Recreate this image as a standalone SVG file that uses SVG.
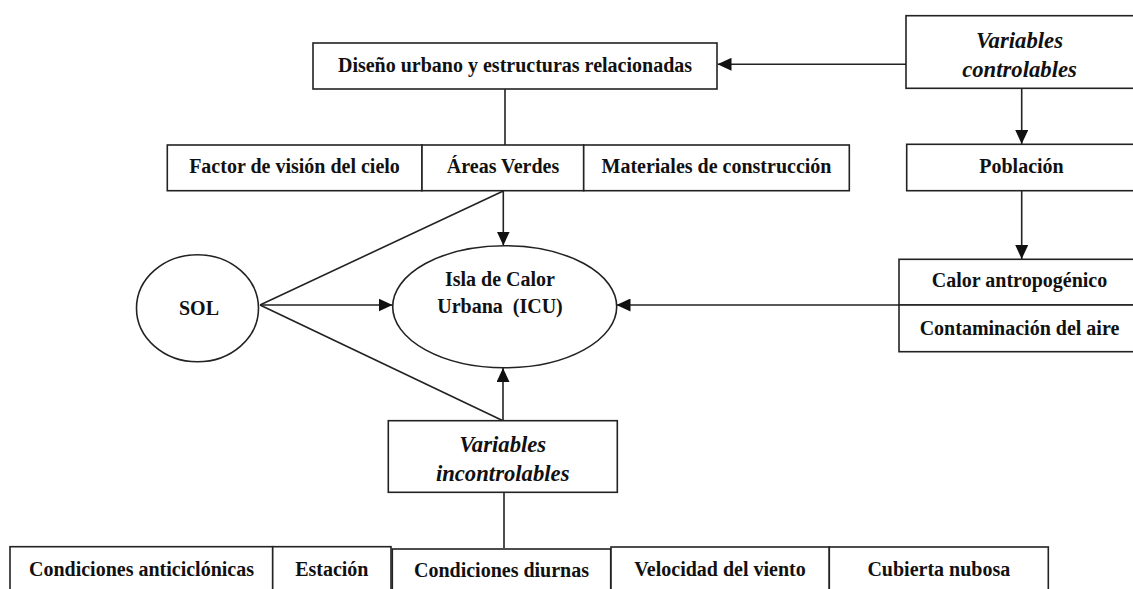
<svg xmlns="http://www.w3.org/2000/svg" width="1133" height="589" viewBox="0 0 1133 589">
<defs>
<style>
.box{fill:#fff;stroke:#222;stroke-width:1.6}
.ln{fill:none;stroke:#222;stroke-width:1.6}
.t{font-family:"Liberation Serif","Times New Roman",serif;font-weight:bold;font-size:20px;fill:#111;text-anchor:middle}
.ti{font-family:"Liberation Serif","Times New Roman",serif;font-weight:bold;font-style:italic;font-size:22.7px;fill:#111;text-anchor:middle}
</style>
<marker id="arr" viewBox="0 0 14 13" refX="14" refY="6.5" markerWidth="14" markerHeight="13" orient="auto" markerUnits="userSpaceOnUse">
<path d="M0,0 L14,6.5 L0,13 z" fill="#111"/>
</marker>
</defs>
<rect width="1133" height="589" fill="#fff"/>

<g id="connectors">
<line class="ln" x1="906" y1="64.3" x2="717.5" y2="64.3" marker-end="url(#arr)"/>
<line class="ln" x1="505" y1="89" x2="505" y2="145"/>
<line class="ln" x1="1021.7" y1="88.3" x2="1021.7" y2="144" marker-end="url(#arr)"/>
<line class="ln" x1="1021.7" y1="190.7" x2="1021.7" y2="259" marker-end="url(#arr)"/>
<line class="ln" x1="900" y1="305" x2="616.5" y2="305" marker-end="url(#arr)"/>
<line class="ln" x1="503.3" y1="191" x2="503.3" y2="245.5" marker-end="url(#arr)"/>
<line class="ln" x1="503.3" y1="191" x2="260" y2="305"/>
<line class="ln" x1="260" y1="305" x2="392.5" y2="305" marker-end="url(#arr)"/>
<line class="ln" x1="260" y1="305" x2="503" y2="420.7"/>
<line class="ln" x1="503" y1="420.7" x2="503" y2="368" marker-end="url(#arr)"/>
<line class="ln" x1="504" y1="492.3" x2="504" y2="548"/>
</g>

<g id="diseno">
<rect class="box" x="313" y="43" width="404" height="46"/>
<text class="t" x="515" y="72">Diseño urbano y estructuras relacionadas</text>
</g>

<g id="factor">
<rect class="box" x="167.3" y="145" width="254.7" height="45.7"/>
<text class="t" x="294.5" y="173">Factor de visión del cielo</text>
</g>
<g id="areas">
<rect class="box" x="422" y="145" width="161.7" height="45.7"/>
<text class="t" x="503" y="173">Áreas Verdes</text>
</g>
<g id="materiales">
<rect class="box" x="583.7" y="145" width="265.6" height="45.7"/>
<text class="t" x="716.5" y="173">Materiales de construcción</text>
</g>

<g id="varcontrol">
<rect class="box" x="906" y="15.7" width="234" height="72.6"/>
<text class="ti" x="1019.5" y="47.7">Variables</text>
<text class="ti" x="1019.5" y="77">controlables</text>
</g>
<g id="poblacion">
<rect class="box" x="906.7" y="144.3" width="234" height="46.4"/>
<text class="t" x="1021.5" y="173.3">Población</text>
</g>
<g id="calor">
<rect class="box" x="899" y="259.3" width="241" height="45.7"/>
<text class="t" x="1019.5" y="287">Calor antropogénico</text>
</g>
<g id="contaminacion">
<rect class="box" x="899" y="305" width="241" height="46.7"/>
<text class="t" x="1019.5" y="334.5">Contaminación del aire</text>
</g>

<g id="sol">
<ellipse class="box" cx="197.5" cy="308.3" rx="61" ry="53.5"/>
<text class="t" x="199" y="315">SOL</text>
</g>

<g id="icu">
<ellipse class="box" cx="504.7" cy="306.7" rx="112" ry="61"/>
<text class="t" x="500" y="286">Isla de Calor</text>
<text class="t" x="500" y="312.7" xml:space="preserve">Urbana  (ICU)</text>
</g>

<g id="varincontrol">
<rect class="box" x="388.3" y="420.7" width="229" height="71.6"/>
<text class="ti" x="502.7" y="451.7">Variables</text>
<text class="ti" x="502.7" y="480.7">incontrolables</text>
</g>

<g id="anticiclonicas">
<rect class="box" x="10" y="546.7" width="262.7" height="60"/>
<text class="t" x="141.5" y="575.5">Condiciones anticiclónicas</text>
</g>
<g id="estacion">
<rect class="box" x="272.7" y="546.7" width="118.3" height="60"/>
<text class="t" x="331.8" y="575.5">Estación</text>
</g>
<g id="diurnas">
<rect class="box" x="392.3" y="549" width="218.4" height="60"/>
<text class="t" x="501.5" y="577">Condiciones diurnas</text>
</g>
<g id="viento">
<rect class="box" x="611" y="547" width="218.3" height="60"/>
<text class="t" x="720" y="575.5">Velocidad del viento</text>
</g>
<g id="nubosa">
<rect class="box" x="829.3" y="547" width="219" height="60"/>
<text class="t" x="938.8" y="575.5">Cubierta nubosa</text>
</g>
</svg>
